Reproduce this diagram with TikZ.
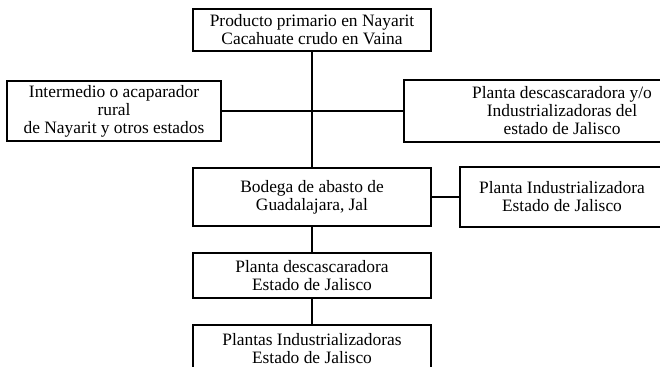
\documentclass[tikz,border=0pt]{standalone}
\usepackage{fontspec}
\setmainfont{Liberation Serif}
\usepackage{tikz}
\tikzset{
  chainbox/.style = {align=center, rectangle, black, inner sep=0pt, text centered,
    font=\fontsize{8.7}{9}\selectfont, draw=black, line width=0.9pt},
  chainline/.style = {draw=black, line width=0.9pt}
}

\begin{document}
\begin{tikzpicture}[x=0.5pt, y=-0.5pt]
        \useasboundingbox (0,0) rectangle (660,367);
        \node [chainbox, minimum width=119pt, minimum height=21pt] (primario) at (312,30)
            {Producto primario en Nayarit\\Cacahuate crudo en Vaina};
        \node [chainbox, minimum width=107pt, minimum height=30pt] (acaparador) at (114,111)
            {Intermedio o acaparador\\rural\\de Nayarit y otros estados};
        \node [chainbox, minimum width=158pt, minimum height=31pt] (descJal) at (562,111)
            {Planta descascaradora y/o\\Industrializadoras del\\estado de Jalisco};
        \node [chainbox, minimum width=119pt, minimum height=29pt] (bodega) at (312,197)
            {Bodega de abasto de\\Guadalajara, Jal};
        \node [chainbox, minimum width=102pt, minimum height=30pt] (industJal) at (562,197)
            {Planta Industrializadora\\Estado de Jalisco};
        \node [chainbox, minimum width=119pt, minimum height=22.5pt] (descEst) at (312,275.5)
            {Planta descascaradora\\Estado de Jalisco};
        \node [chainbox, minimum width=119pt, minimum height=24pt] (plantas) at (312,349)
            {Plantas Industrializadoras\\Estado de Jalisco};
        % conexiones
        \draw [chainline] (primario.south) -- (bodega.north);
        \draw [chainline] (acaparador.east) -- (descJal.west);
        \draw [chainline] (bodega.east) -- (industJal.west);
        \draw [chainline] (bodega.south) -- (descEst.north);
        \draw [chainline] (descEst.south) -- (plantas.north);
\end{tikzpicture}
\end{document}
